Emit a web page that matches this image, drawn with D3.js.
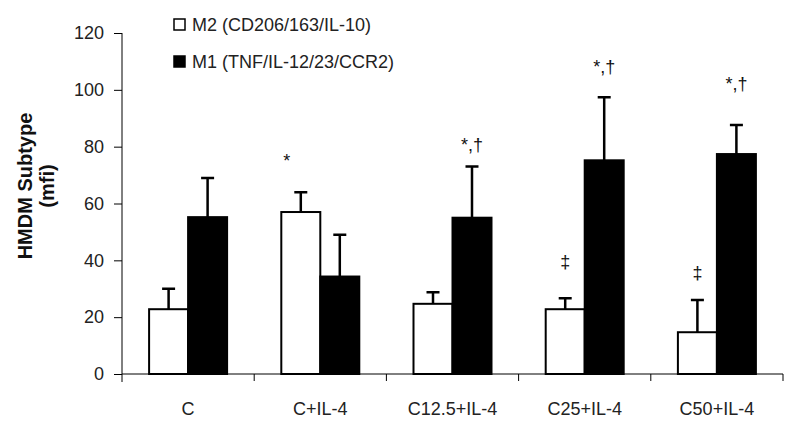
<!DOCTYPE html>
<html>
<head>
<meta charset="utf-8">
<script src="https://cdn.jsdelivr.net/npm/d3@7"></script>
<style>
  body { margin: 0; background: #fff; }
  svg { display: block; font-family: "Liberation Sans", Arial, sans-serif; }
</style>
</head>
<body>
<div id="chart"></div>
<script>
// groups along the x axis
var groups = ["C", "C+IL-4", "C12.5+IL-4", "C25+IL-4", "C50+IL-4"];
var seriesNames = ["M2 (CD206/163/IL-10)", "M1 (TNF/IL-12/23/CCR2)"];

// mean values (mfi)
var m2Values = [22.8, 57, 24.7, 22.8, 14.7];
var m1Values = [55.2, 34.3, 55, 75.2, 77.4];
// upper error (mean + sd)
var m2ErrTop = [30, 64, 28.8, 26.7, 26];
var m1ErrTop = [69, 49, 73, 97.4, 87.6];

var yTicks = [0, 20, 40, 60, 80, 100, 120];

// significance marks: group, series (0 = M2, 1 = M1), text, height in mfi
var marks = [
  { group: "C+IL-4", series: 0, text: "*", at: 73 },
  { group: "C12.5+IL-4", series: 1, text: "*,†", at: 78.5 },
  { group: "C25+IL-4", series: 0, text: "‡", at: 37.4 },
  { group: "C25+IL-4", series: 1, text: "*,†", at: 106 },
  { group: "C50+IL-4", series: 0, text: "‡", at: 33.5 },
  { group: "C50+IL-4", series: 1, text: "*,†", at: 100 }
];

var width = 800, height = 432;
var margin = { top: 33, right: 17, bottom: 58, left: 122 };

var svg = d3.select("#chart").append("svg")
  .attr("width", width)
  .attr("height", height);

var x = d3.scaleBand()
  .domain(groups)
  .range([margin.left, width - margin.right]);

var x1 = d3.scaleBand()
  .domain([0, 1])
  .range([0, x.bandwidth() * 0.59]);

var y = d3.scaleLinear()
  .domain([0, 120])
  .range([height - margin.bottom, margin.top]);

var barOffset = (x.bandwidth() - x1.range()[1]) / 2;

function barCenter(g, s) {
  return x(g) + barOffset + x1(s) + x1.bandwidth() / 2;
}

// y axis
var yAxis = svg.append("g")
  .attr("transform", "translate(" + margin.left + ",0)")
  .call(d3.axisLeft(y).tickValues(yTicks).tickSize(8).tickPadding(10));
yAxis.select(".domain").attr("d", "M0," + y(120) + "V" + (y(0) + 8)).attr("stroke", "#000");
yAxis.selectAll("text").attr("font-size", 18).attr("fill", "#222");

// x axis
var xAxis = svg.append("g")
  .attr("transform", "translate(0," + y(0) + ")");
xAxis.append("line")
  .attr("x1", margin.left).attr("x2", width - margin.right)
  .attr("stroke", "#000");
var bounds = groups.map(function(g) { return x(g) + x.bandwidth(); });
xAxis.selectAll(".tk")
  .data(bounds)
  .enter().append("line")
  .attr("x1", function(d) { return d; })
  .attr("x2", function(d) { return d; })
  .attr("y2", 7)
  .attr("stroke", "#000");
xAxis.selectAll(".lbl")
  .data(groups)
  .enter().append("text")
  .attr("x", function(d) { return x(d) + x.bandwidth() / 2; })
  .attr("y", 41)
  .attr("text-anchor", "middle")
  .attr("font-size", 18)
  .attr("fill", "#222")
  .text(function(d) { return d; });

// bars
var series = [m2Values, m1Values];
var errs = [m2ErrTop, m1ErrTop];
var fills = ["#fff", "#000"];

series.forEach(function(vals, s) {
  var barsG = svg.append("g");
  // error bars first so the bar covers the stem
  barsG.selectAll(".err")
    .data(groups)
    .enter().append("path")
    .attr("d", function(g, i) {
      var cx = barCenter(g, s);
      return "M" + cx + "," + y(vals[i]) + "V" + y(errs[s][i]) +
        "M" + (cx - 6.5) + "," + y(errs[s][i]) + "H" + (cx + 6.5);
    })
    .attr("stroke", "#000")
    .attr("stroke-width", 2.5)
    .attr("fill", "none");
  barsG.selectAll("rect")
    .data(groups)
    .enter().append("rect")
    .attr("x", function(g) { return x(g) + barOffset + x1(s); })
    .attr("y", function(g, i) { return y(vals[i]); })
    .attr("width", x1.bandwidth())
    .attr("height", function(g, i) { return y(0) - y(vals[i]); })
    .attr("fill", fills[s])
    .attr("stroke", "#000")
    .attr("stroke-width", 2);
});

// significance marks (a lone star sits a bit left, like the star of "*,†")
svg.append("g").selectAll("text")
  .data(marks)
  .enter().append("text")
  .attr("x", function(d) {
    return barCenter(d.group, d.series) - (d.text === "*" ? 14 : 0);
  })
  .attr("y", function(d) { return y(d.at); })
  .attr("text-anchor", "middle")
  .attr("font-size", 18)
  .attr("fill", "#111")
  .text(function(d) { return d.text; });

// y title
var yt = svg.append("text")
  .attr("transform", "translate(32,186) rotate(-90)")
  .attr("text-anchor", "middle")
  .attr("font-size", 20)
  .attr("font-weight", "bold")
  .attr("fill", "#111");
yt.append("tspan").attr("x", 0).attr("dy", 0).text("HMDM Subtype");
yt.append("tspan").attr("x", 0).attr("dy", 22).text("(mfi)");

// legend
var legend = svg.append("g").attr("transform", "translate(174,19)");
seriesNames.forEach(function(name, i) {
  var row = legend.append("g").attr("transform", "translate(0," + i * 37 + ")");
  row.append("rect")
    .attr("width", 11).attr("height", 11)
    .attr("fill", fills[i])
    .attr("stroke", "#000").attr("stroke-width", 1.5);
  row.append("text")
    .attr("x", 18).attr("y", 12)
    .attr("font-size", 18)
    .attr("fill", "#222")
    .text(name);
});
</script>
</body>
</html>
